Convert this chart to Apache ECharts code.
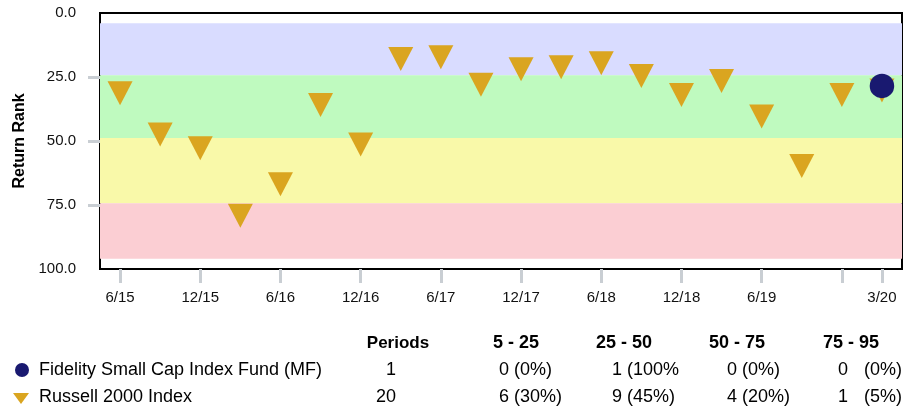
<!DOCTYPE html>
<html><head><meta charset="utf-8">
<script src="https://cdn.jsdelivr.net/npm/echarts@6/dist/echarts.min.js"></script>
<style>html,body{margin:0;padding:0;background:#fff}#c{width:904px;height:410px}</style>
</head><body><div id="c"></div>
<script>
// ---- data ----
const quarters = ["6/15","9/15","12/15","3/16","6/16","9/16","12/16","3/17","6/17","9/17","12/17","3/18","6/18","9/18","12/18","3/19","6/19","9/19","12/19","3/20"];
const russellRank = [31.3,47.5,52.8,79.2,66.9,35.9,51.4,18.0,17.3,28.0,22.0,21.2,19.6,24.6,32.0,26.6,40.4,59.8,32.0,30.3];
const fundQuarters = ["3/20"];
const fundRank = [28.5];
const yTickLabels = [0,25,50,75,100];
const yTickMarks = [25,50,75];
const bandEdges = [4,24.3,48.8,74.3,96];
const xLabelIdx = [0,2,4,6,8,10,12,14,16,19];
const xTickIdx = [0,2,4,6,8,10,12,14,16,18,19];
const seriesNames = ["Fidelity Small Cap Index Fund (MF)","Russell 2000 Index"];
const bucketLabels = ["5 - 25","25 - 50","50 - 75","75 - 95"];
const periodCounts = [1,20];
const bucketCounts = [[0,1,0,0],[6,9,4,1]];
const bucketPct = [[0,100,0,0],[30,45,20,5]];

// ---- styles ----
const GOLD = '#DAA520', NAVY = '#191970', TICK = '#c9ced3';
const FONT = '"Liberation Sans", Arial, sans-serif';
const bandColors = ['#d9dcff','#bffabf','#f9f9a9','#fbced3'];

const chart = echarts.init(document.getElementById('c'));

const bands = [];
for (let i = 0; i < bandEdges.length - 1; i++) {
  bands.push([{yAxis: bandEdges[i], itemStyle: {color: bandColors[i]}}, {yAxis: bandEdges[i+1]}]);
}

// legend table graphics
const g = [];
const rowY = [370, 397];
const headerY = 343;
g.push({type:'circle', shape:{cx:22, cy:rowY[0], r:7}, style:{fill:NAVY}});
g.push({type:'polygon', shape:{points:[[13,rowY[1]-4],[29,rowY[1]-4],[21,rowY[1]+7]]}, style:{fill:GOLD}});
function txt(text, x, y, align, bold, size, extra) {
  return {type:'text', x:x, y:y, style:Object.assign({text:text, font:(bold?'bold ':'')+size+'px '+FONT, fill:'#000', align:align, verticalAlign:'middle'}, extra||{})};
}
g.push(txt('Periods', 398, headerY, 'center', true, 17));
const headerX = [516, 624, 737, 851];
bucketLabels.forEach((b,i)=> g.push(txt(b, headerX[i], headerY, 'center', true, 18)));
const valLeft = [499, 612, 727];
seriesNames.forEach((n, r) => {
  g.push(txt(n, 39, rowY[r], 'left', false, 18));
  g.push(txt(String(periodCounts[r]), 396, rowY[r], 'right', false, 18));
  for (let c = 0; c < 3; c++) {
    const s = bucketCounts[r][c] + ' (' + bucketPct[r][c] + '%)';
    g.push(txt(s, valLeft[c], rowY[r], 'left', false, 18, {width: 71, overflow: 'truncate', ellipsis: ''}));
  }
  g.push(txt(String(bucketCounts[r][3]), 838, rowY[r], 'left', false, 18));
  g.push(txt('(' + bucketPct[r][3] + '%)', 902, rowY[r], 'right', false, 18));
});

chart.setOption({
  animation: false,
  textStyle: {fontFamily: FONT},
  grid: {left: 100, right: 2, top: 13, bottom: 141, show: true, borderColor: '#000', borderWidth: 2, backgroundColor: 'transparent'},
  xAxis: {
    type: 'category', data: quarters, boundaryGap: true, position: 'bottom',
    axisLine: {show: false, onZero: false},
    axisTick: {show: true, alignWithLabel: true, length: 14, interval: (i) => xTickIdx.includes(i), lineStyle: {color: TICK, width: 3}},
    axisLabel: {interval: (i) => xLabelIdx.includes(i), fontSize: 15, color: '#111', margin: 21, fontFamily: FONT},
    splitLine: {show: false}
  },
  yAxis: {
    type: 'value', inverse: true, min: 0, max: 100, interval: 25,
    name: 'Return Rank', nameLocation: 'middle', nameGap: 72, nameRotate: 90,
    nameTextStyle: {fontSize: 16, fontWeight: 'bold', color: '#000', fontFamily: FONT},
    axisLine: {show: false},
    axisTick: {show: true, customValues: yTickMarks, length: 12, lineStyle: {color: TICK, width: 3}},
    axisLabel: {customValues: yTickLabels, formatter: v => Number(v).toFixed(1), fontSize: 15, color: '#111', margin: 24, fontFamily: FONT},
    splitLine: {show: false}
  },
  series: [
    {type: 'scatter', data: [], z: 1, silent: true, markArea: {silent: true, data: bands}},
    {type: 'scatter', name: seriesNames[1], data: russellRank, symbol: 'triangle', symbolRotate: 180, symbolSize: [25, 24], itemStyle: {color: GOLD, opacity: 1}, z: 3},
    {type: 'scatter', name: seriesNames[0], data: fundQuarters.map((q, i) => [q, fundRank[i]]), symbol: 'circle', symbolSize: 24.5, itemStyle: {color: NAVY, opacity: 1}, z: 4}
  ],
  graphic: g
});
</script></body></html>
